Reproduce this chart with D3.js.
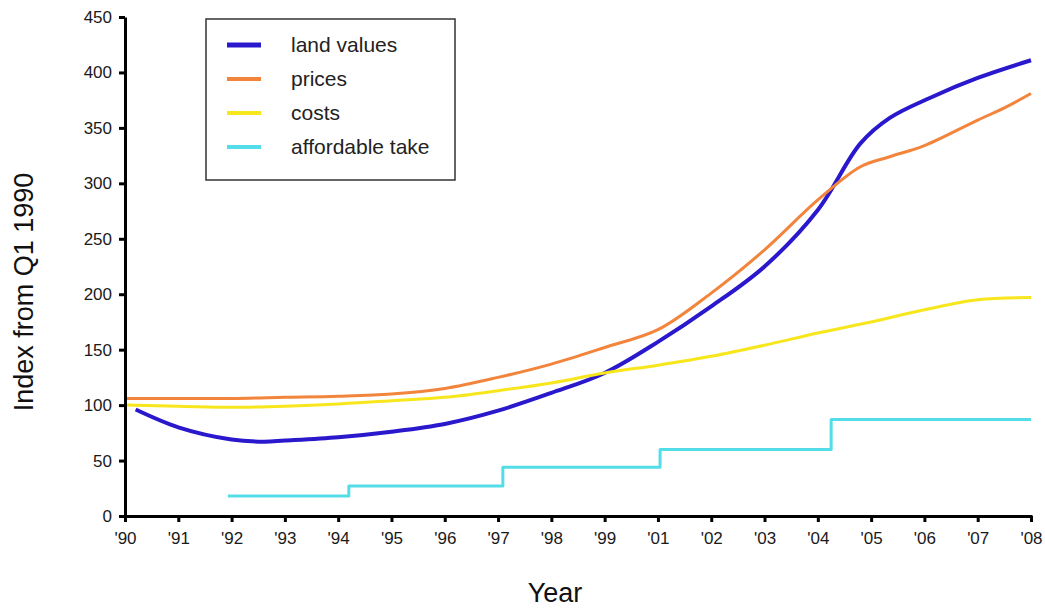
<!DOCTYPE html>
<html>
<head>
<meta charset="utf-8">
<script src="https://cdn.jsdelivr.net/npm/d3@7"></script>
<style>
  body { margin: 0; background: #fff; }
  text { font-family: "Liberation Sans", Arial, sans-serif; }
</style>
</head>
<body>
<svg id="chart" width="1045" height="609"></svg>
<script>
"use strict";

// tick labels along the x axis (no '00 in the original)
const yearLabels = ["'90", "'91", "'92", "'93", "'94", "'95", "'96", "'97", "'98", "'99",
  "'01", "'02", "'03", "'04", "'05", "'06", "'07", "'08"];
const yTicks = [0, 50, 100, 150, 200, 250, 300, 350, 400, 450];

// positions are in tick units (0 = '90 ... 17 = '08)
const landT = [0.2, 1, 2, 2.6, 3, 4, 5, 6, 7, 8, 9, 10, 11, 12, 13, 13.8, 14.35, 15.1, 16, 17];
const landV = [96, 80, 69, 67, 68, 71, 76, 83, 95, 111, 129, 157, 189, 225, 276, 336, 359, 377, 395, 411];

const priceT = [0, 1, 2, 3, 4, 5, 6, 7, 8, 9, 10, 11, 12, 13, 13.8, 14.35, 15, 16, 16.5, 17];
const priceV = [106, 106, 106, 107, 108, 110, 115, 125, 137, 152, 168, 201, 240, 285, 315, 324, 334, 357, 368, 381];

const costT = [0, 1, 2, 3, 4, 5, 6, 7, 8, 9, 10, 11, 12, 13, 14, 15, 16, 17];
const costV = [100, 99, 98, 99, 101, 104, 107, 113, 120, 129, 136, 144, 154, 165, 175, 186, 195, 197];

const takeT = [1.93, 4.2, 7.09, 10.04, 13.25, 17];
const takeV = [18, 27, 44, 60, 87, 87];

const smooth = d3.curveCatmullRom.alpha(0.5);

const series = [
  { name: 'land values', t: landT, v: landV, color: '#2a18cc', width: 4, curve: smooth },
  { name: 'prices', t: priceT, v: priceV, color: '#f3843c', width: 3, curve: smooth },
  { name: 'costs', t: costT, v: costV, color: '#f8e61c', width: 3, curve: smooth },
  { name: 'affordable take', t: takeT, v: takeV, color: '#52dde8', width: 3, curve: d3.curveStepAfter }
];

const svg = d3.select('#chart');

const x = d3.scaleLinear().domain([0, 17]).range([125, 1031]);
const y = d3.scaleLinear().domain([0, 450]).range([516, 17]);

// lines
series.forEach((s) => {
  let pts = s.t.map((t, i) => [t, s.v[i]]);
  let line = d3.line().x((d) => x(d[0])).y((d) => y(d[1])).curve(s.curve);
  svg.append('path')
    .datum(pts)
    .attr('d', line)
    .attr('fill', 'none')
    .attr('stroke', s.color)
    .attr('stroke-width', s.width)
    .attr('stroke-linejoin', 'round');
});

// y axis
let yAxis = d3.axisLeft(y).tickValues(yTicks).tickSize(6).tickSizeOuter(0).tickPadding(7);
let gy = svg.append('g').attr('transform', 'translate(125,0)').call(yAxis);
gy.select('.domain').attr('stroke-width', 3).attr('stroke', '#000');
gy.selectAll('.tick line').attr('stroke-width', 3).attr('stroke', '#000');
gy.selectAll('.tick text').attr('font-size', 17).attr('fill', '#1a1a1a')
  .style('font-family', '"Liberation Sans", Arial, sans-serif');

// x axis
let xAxis = d3.axisBottom(x).tickValues(d3.range(18)).tickFormat((d) => yearLabels[d])
  .tickSize(6).tickSizeOuter(0).tickPadding(10);
let gx = svg.append('g').attr('transform', 'translate(0,516)').call(xAxis);
gx.select('.domain').attr('stroke-width', 3).attr('stroke', '#000').attr('stroke-linecap', 'round');
gx.selectAll('.tick line').attr('stroke-width', 3).attr('stroke', '#000');
gx.selectAll('.tick text').attr('font-size', 17).attr('fill', '#1a1a1a')
  .style('font-family', '"Liberation Sans", Arial, sans-serif');

// axis titles
svg.append('text')
  .attr('x', 555).attr('y', 602)
  .attr('text-anchor', 'middle')
  .attr('font-size', 27)
  .attr('fill', '#111')
  .text('Year');

svg.append('text')
  .attr('transform', 'translate(33,292) rotate(-90)')
  .attr('text-anchor', 'middle')
  .attr('font-size', 27)
  .attr('fill', '#111')
  .text('Index from Q1 1990');

// legend
let legend = svg.append('g');
legend.append('rect')
  .attr('x', 206).attr('y', 19)
  .attr('width', 249).attr('height', 161)
  .attr('fill', '#fff')
  .attr('stroke', '#333')
  .attr('stroke-width', 1.5);

series.forEach((s, i) => {
  let cy = 45 + i * 34;
  legend.append('line')
    .attr('x1', 227).attr('x2', 261)
    .attr('y1', cy).attr('y2', cy)
    .attr('stroke', s.color)
    .attr('stroke-width', i === 0 ? 5 : 4);
  legend.append('text')
    .attr('x', 291).attr('y', cy)
    .attr('dy', '0.35em')
    .attr('font-size', 21)
    .attr('fill', '#222')
    .text(s.name);
});
</script>
</body>
</html>
